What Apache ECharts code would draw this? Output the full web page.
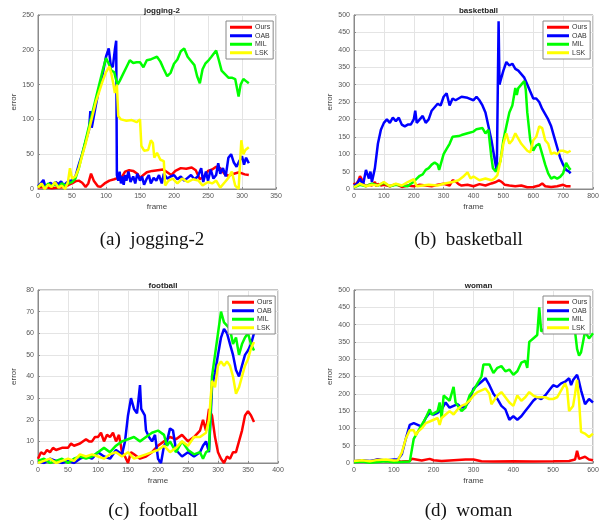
<!DOCTYPE html>
<html>
<head>
<meta charset="utf-8">
<script src="https://cdn.jsdelivr.net/npm/echarts@6/dist/echarts.min.js"></script>
<style>
  html, body { margin: 0; padding: 0; background: #fff; }
  #chart { width: 602px; height: 520px; }
</style>
</head>
<body>
<div id="chart"></div>
<script>
// Tracking error per frame for four trackers on four sequences: [frame, error]
const methods = ['Ours', 'OAB', 'MIL', 'LSK'];
const methodColors = ['#ff0000', '#0000ff', '#00ff00', '#ffff00'];
const sequences = ['jogging-2', 'basketball', 'football', 'woman'];
const captions = ['(a)  jogging-2', '(b)  basketball', '(c)  football', '(d)  woman'];

const xMax = [350, 800, 400, 600];
const xStep = [50, 100, 50, 100];
const yMax = [250, 500, 80, 500];
const yStep = [50, 50, 10, 50];

const joggingOurs = [[0,2],[10,3],[20,1],[30,2],[40,3],[45,6],[50,8],[55,11],[60,12],[65,9],[70,3],[74,8],[78,22],[82,12],[88,4],[92,3],[98,8],[105,12],[112,14],[118,16],[124,18],[128,25],[134,27],[140,26],[146,22],[150,16],[155,20],[160,24],[168,26],[176,27],[184,28],[190,24],[196,20],[202,26],[210,30],[218,29],[226,31],[232,27],[238,14],[244,18],[250,26],[256,28],[262,32],[268,30],[274,22],[280,19],[288,22],[296,24],[304,21],[310,20]];
const joggingOAB = [[0,4],[4,8],[8,13],[10,6],[14,4],[18,9],[22,6],[26,10],[30,7],[34,11],[38,5],[42,9],[46,12],[50,12],[55,18],[60,35],[65,50],[70,68],[75,85],[77,112],[79,88],[85,120],[90,145],[95,165],[100,190],[104,202],[107,178],[110,175],[113,200],[115,213],[116,20],[118,12],[120,25],[122,8],[124,18],[126,6],[128,20],[130,12],[133,25],[136,10],[140,18],[143,8],[146,22],[150,12],[153,18],[156,6],[160,15],[163,20],[166,8],[170,16],[174,12],[178,20],[182,8],[185,22],[190,15],[195,18],[200,20],[205,14],[210,18],[215,12],[220,16],[225,20],[230,14],[235,18],[240,30],[243,10],[247,25],[250,12],[254,28],[258,15],[262,20],[265,37],[268,22],[272,30],[276,18],[280,45],[284,50],[288,38],[292,32],[296,40],[300,47],[303,35],[306,45],[310,37]];
const joggingMIL = [[0,3],[5,6],[10,2],[15,8],[20,4],[25,7],[30,3],[35,8],[40,5],[45,8],[50,10],[55,15],[60,30],[65,50],[70,70],[75,90],[80,110],[85,130],[90,150],[95,170],[100,188],[104,180],[108,170],[112,168],[114,160],[117,150],[120,155],[125,165],[130,175],[135,185],[140,181],[145,182],[150,182],[155,175],[160,185],[165,186],[170,188],[175,190],[180,183],[185,172],[190,162],[195,167],[200,180],[205,186],[210,198],[215,202],[220,190],[225,184],[230,178],[234,162],[238,152],[242,172],[246,180],[250,184],[255,190],[262,199],[266,185],[270,170],[275,165],[280,160],[285,160],[290,158],[295,133],[298,150],[302,158],[306,155],[310,152]];
const joggingLSK = [[0,2],[5,8],[10,0],[15,6],[20,3],[25,10],[30,2],[35,5],[40,0],[44,10],[47,30],[50,15],[55,18],[60,30],[65,48],[70,65],[75,85],[80,105],[85,125],[90,140],[95,155],[100,168],[105,176],[108,165],[111,150],[113,138],[116,150],[118,105],[122,100],[130,98],[138,99],[145,96],[150,100],[152,62],[156,55],[162,56],[166,70],[169,66],[171,45],[175,52],[180,42],[185,40],[187,5],[192,12],[198,15],[205,8],[212,15],[220,10],[228,14],[236,12],[242,5],[250,10],[256,8],[262,12],[268,2],[275,10],[280,16],[285,25],[290,5],[295,0],[299,70],[302,50],[305,56],[310,60]];

const basketballOurs = [[0,18],[5,10],[10,5],[15,25],[20,37],[25,30],[30,15],[40,8],[50,12],[60,10],[70,20],[75,8],[80,15],[90,10],[100,12],[120,8],[140,14],[160,6],[180,10],[200,8],[220,12],[240,10],[260,8],[280,12],[300,15],[320,10],[330,25],[340,22],[350,14],[360,10],[380,12],[400,8],[420,14],[440,10],[460,16],[475,20],[485,25],[490,30],[495,20],[505,12],[520,10],[540,8],[560,10],[580,5],[600,6],[620,10],[630,16],[640,8],[660,6],[680,8],[700,12],[710,8],[725,8]];
const basketballOAB = [[0,10],[10,15],[20,30],[30,10],[40,55],[50,30],[55,50],[60,20],[70,60],[80,130],[90,170],[100,190],[110,200],[120,190],[130,205],[140,195],[150,205],[160,185],[170,180],[180,185],[190,185],[200,200],[205,225],[210,190],[220,200],[230,210],[240,190],[250,200],[260,225],[270,235],[280,245],[290,240],[300,265],[310,275],[320,240],[330,260],[340,255],[360,265],[380,262],[400,255],[410,265],[420,255],[430,240],[440,220],[450,180],[460,140],[470,90],[478,50],[484,482],[487,300],[490,310],[500,340],[510,365],[520,355],[530,360],[540,345],[550,340],[560,330],[570,320],[580,300],[590,280],[600,260],[610,260],[620,250],[630,230],[640,215],[650,200],[660,180],[670,150],[680,120],[690,90],[700,70],[710,55],[720,50],[725,45]];
const basketballMIL = [[0,5],[20,12],[40,8],[60,15],[80,10],[100,18],[120,8],[140,12],[160,10],[180,8],[190,15],[200,20],[210,30],[220,38],[230,42],[240,55],[250,60],[260,70],[270,76],[280,70],[285,55],[290,70],[300,100],[310,115],[320,130],[330,150],[350,152],[360,155],[380,160],[400,165],[410,172],[430,175],[440,160],[450,170],[455,130],[460,90],[465,60],[475,50],[480,55],[490,80],[500,140],[510,180],[520,220],[530,240],[540,290],[545,270],[550,290],[560,300],[570,310],[575,285],[580,220],[590,140],[600,110],[610,125],[620,130],[630,100],[640,70],[650,45],[660,30],[670,35],[680,30],[690,35],[700,45],[710,75],[720,60],[725,55]];
const basketballLSK = [[0,5],[20,15],[40,8],[60,12],[80,10],[100,20],[120,8],[140,15],[160,10],[180,20],[200,28],[210,8],[230,10],[250,12],[280,10],[300,15],[330,20],[350,25],[365,35],[380,48],[390,30],[400,36],[420,25],[440,30],[460,25],[470,30],[480,40],[490,80],[500,130],[510,160],[520,130],[530,140],[540,160],[550,145],[560,130],[570,120],[580,110],[590,105],[600,140],[610,150],[620,180],[630,175],[640,140],[650,130],[660,100],[670,105],[680,100],[690,110],[700,110],[715,105],[725,110]];

const footballOurs = [[0,2],[5,5],[10,4],[15,6],[20,5],[25,7],[30,6],[40,7],[50,7],[55,9],[60,8],[70,9],[80,11],[85,10],[90,10],[95,12],[100,12],[105,14],[110,10],[115,13],[120,12],[125,14],[130,10],[135,13],[140,5],[145,3],[150,0],[155,5],[160,4],[170,2],[180,3],[190,5],[200,8],[210,10],[220,12],[230,11],[240,13],[250,10],[260,12],[270,15],[275,20],[280,15],[285,25],[290,22],[295,12],[300,5],[305,2],[310,0],[315,3],[320,2],[325,5],[330,5],[335,10],[340,15],[345,22],[350,24],[355,22],[360,19]];
const footballOAB = [[0,1],[10,0],[20,2],[30,1],[40,0],[50,1],[60,0],[70,2],[80,3],[90,2],[100,5],[110,3],[120,2],[130,6],[140,4],[145,10],[150,22],[155,30],[160,25],[165,23],[170,36],[172,25],[178,22],[180,15],[185,12],[190,10],[195,13],[200,2],[205,0],[210,8],[215,10],[220,16],[225,15],[230,6],[240,3],[250,5],[260,3],[270,5],[275,8],[280,10],[285,5],[290,35],[295,42],[300,50],[305,58],[310,62],[315,60],[320,55],[325,50],[330,43],[335,40],[340,45],[345,50],[350,52],[355,55],[360,60]];
const footballMIL = [[0,1],[10,2],[20,0],[30,1],[40,2],[50,0],[60,2],[70,3],[80,2],[90,3],[100,5],[110,7],[120,5],[130,8],[140,10],[150,11],[160,12],[170,10],[180,12],[190,14],[200,15],[210,13],[215,8],[220,10],[230,5],[240,10],[250,6],[260,4],[270,5],[275,2],[280,5],[285,6],[290,40],[295,50],[300,60],[305,70],[310,65],[320,62],[325,55],[330,58],[335,50],[340,55],[345,58],[350,60],[355,55],[360,52]];
const footballLSK = [[0,0],[10,1],[20,2],[30,0],[40,1],[50,2],[60,1],[70,4],[80,3],[90,4],[100,3],[110,2],[120,4],[130,5],[140,3],[150,5],[160,2],[170,3],[180,4],[190,5],[200,6],[210,8],[220,5],[230,7],[240,10],[250,8],[260,12],[270,12],[280,14],[285,20],[290,38],[295,35],[300,45],[305,47],[310,45],[315,47],[320,45],[325,40],[330,32],[335,35],[340,40],[345,45],[350,48],[355,53],[360,56]];

const womanOurs = [[0,3],[20,6],[40,4],[60,10],[80,5],[100,7],[120,4],[140,6],[145,12],[150,10],[170,7],[190,12],[200,8],[220,6],[250,8],[280,10],[300,10],[320,5],[350,4],[400,5],[450,4],[500,5],[540,6],[555,10],[560,35],[565,12],[570,10],[580,18],[590,10],[600,8]];
const womanOAB = [[0,5],[20,8],[40,6],[60,10],[80,7],[100,10],[110,10],[120,25],[130,70],[140,110],[150,115],[160,110],[170,105],[180,130],[190,145],[200,140],[210,145],[220,155],[230,175],[240,160],[250,165],[260,170],[270,160],[280,165],[290,180],[300,215],[310,225],[320,235],[330,245],[340,225],[350,200],[360,185],[370,165],[380,155],[390,125],[400,135],[410,125],[420,135],[430,150],[440,165],[450,180],[460,190],[470,185],[480,195],[490,210],[500,225],[510,220],[520,230],[530,235],[540,245],[545,225],[550,240],[560,255],[565,235],[570,210],[580,170],[590,185],[600,175]];
const womanMIL = [[0,2],[20,4],[40,1],[60,3],[80,5],[100,2],[120,3],[140,4],[145,5],[150,70],[155,80],[160,90],[170,110],[180,130],[190,155],[195,140],[200,140],[210,150],[215,175],[220,130],[225,195],[230,200],[240,180],[245,185],[250,220],[255,175],[260,170],[270,150],[280,160],[290,195],[300,210],[310,230],[320,250],[325,285],[330,290],[340,285],[350,260],[360,275],[370,280],[380,265],[390,270],[400,255],[410,265],[420,290],[430,295],[435,275],[440,350],[450,360],[460,370],[465,450],[470,380],[480,390],[500,400],[520,420],[540,420],[555,380],[560,330],[565,310],[570,320],[575,350],[580,380],[585,370],[590,360],[600,375]];
const womanLSK = [[0,6],[20,8],[40,5],[60,9],[80,10],[100,7],[110,8],[120,30],[130,70],[140,95],[150,95],[155,80],[160,90],[170,100],[180,115],[190,120],[200,125],[210,130],[215,110],[220,130],[230,140],[240,150],[250,140],[260,155],[270,165],[280,170],[290,180],[300,195],[310,205],[320,210],[330,215],[340,200],[345,170],[350,175],[360,195],[370,205],[380,190],[390,175],[400,165],[410,195],[420,180],[430,190],[440,205],[450,195],[460,190],[470,190],[480,190],[490,185],[500,185],[510,190],[520,210],[530,230],[535,215],[540,150],[550,165],[555,200],[560,240],[565,180],[570,90],[580,85],[590,75],[600,85]];

const seriesData = [
  [joggingOurs, joggingOAB, joggingMIL, joggingLSK],
  [basketballOurs, basketballOAB, basketballMIL, basketballLSK],
  [footballOurs, footballOAB, footballMIL, footballLSK],
  [womanOurs, womanOAB, womanMIL, womanLSK]
];

// Panel placement (2 x 2) and caption offsets below each panel
const grids = [
  { left: 38, top: 15, width: 238, height: 174 },
  { left: 354, top: 15, width: 239, height: 174 },
  { left: 38, top: 290, width: 240, height: 173 },
  { left: 354, top: 290, width: 239, height: 173 }
];
const captionGap = [42, 42, 39, 39];

const sans = 'Liberation Sans, Arial, sans-serif';
const serif = 'Liberation Serif, Times New Roman, serif';

const option = {
  animation: false,
  backgroundColor: '#fff',
  title: [],
  legend: [],
  grid: grids.map(g => Object.assign({ show: true, borderColor: '#8a8a8a', borderWidth: 1, containLabel: false }, g)),
  xAxis: [],
  yAxis: [],
  series: []
};

grids.forEach((g, i) => {
  option.title.push({
    text: sequences[i],
    left: g.left + g.width / 2,
    top: g.top - 13,
    textAlign: 'center',
    textStyle: { fontFamily: sans, fontSize: 8, fontWeight: 'bold', color: '#222' }
  });
  option.title.push({
    text: captions[i],
    left: g.left + g.width / 2 - 5,
    top: g.top + g.height + captionGap[i],
    textAlign: 'center',
    padding: 0,
    textStyle: { fontFamily: serif, fontSize: 19, fontWeight: 'normal', color: '#111' }
  });
  option.legend.push({
    data: methods,
    orient: 'vertical',
    left: g.left + g.width - 50,
    top: g.top + 6,
    z: 10,
    icon: 'rect',
    itemWidth: 22,
    itemHeight: 3,
    itemGap: 0,
    selectedMode: false,
    backgroundColor: '#fff',
    borderColor: '#888',
    borderWidth: 1,
    borderRadius: 0,
    padding: [2, 3, 2, 4],
    textStyle: { fontFamily: sans, fontSize: 7, color: '#333', lineHeight: 8.5, padding: [0, 0, 0, -2] }
  });
  option.xAxis.push({
    type: 'value',
    gridIndex: i,
    min: 0,
    max: xMax[i],
    interval: xStep[i],
    name: 'frame',
    nameLocation: 'middle',
    nameGap: 14,
    nameTextStyle: { fontFamily: sans, fontSize: 8, color: '#444' },
    axisLine: { show: true, lineStyle: { color: '#8a8a8a' } },
    axisTick: { show: true, inside: true, length: 2, lineStyle: { color: '#8a8a8a' } },
    axisLabel: { fontFamily: sans, fontSize: 7, color: '#555', margin: 4 },
    splitLine: { show: true, lineStyle: { color: '#e4e4e4', width: 1 } }
  });
  option.yAxis.push({
    type: 'value',
    gridIndex: i,
    min: 0,
    max: yMax[i],
    interval: yStep[i],
    name: 'error',
    nameLocation: 'middle',
    nameGap: 20,
    nameRotate: 90,
    nameTextStyle: { fontFamily: sans, fontSize: 8, color: '#444' },
    axisLine: { show: true, lineStyle: { color: '#8a8a8a' } },
    axisTick: { show: true, inside: true, length: 2, lineStyle: { color: '#8a8a8a' } },
    axisLabel: { fontFamily: sans, fontSize: 7, color: '#555', margin: 4 },
    splitLine: { show: true, lineStyle: { color: '#e4e4e4', width: 1 } }
  });
  methods.forEach((m, k) => {
    option.series.push({
      type: 'line',
      name: m,
      xAxisIndex: i,
      yAxisIndex: i,
      data: seriesData[i][k],
      showSymbol: false,
      symbol: 'none',
      color: methodColors[k],
      lineStyle: { color: methodColors[k], width: 2.5 },
      itemStyle: { color: methodColors[k] },
      z: 2,
      z2: k
    });
  });
});

const chart = echarts.init(document.getElementById('chart'), null, { renderer: 'canvas' });
chart.setOption(option);
</script>
</body>
</html>
